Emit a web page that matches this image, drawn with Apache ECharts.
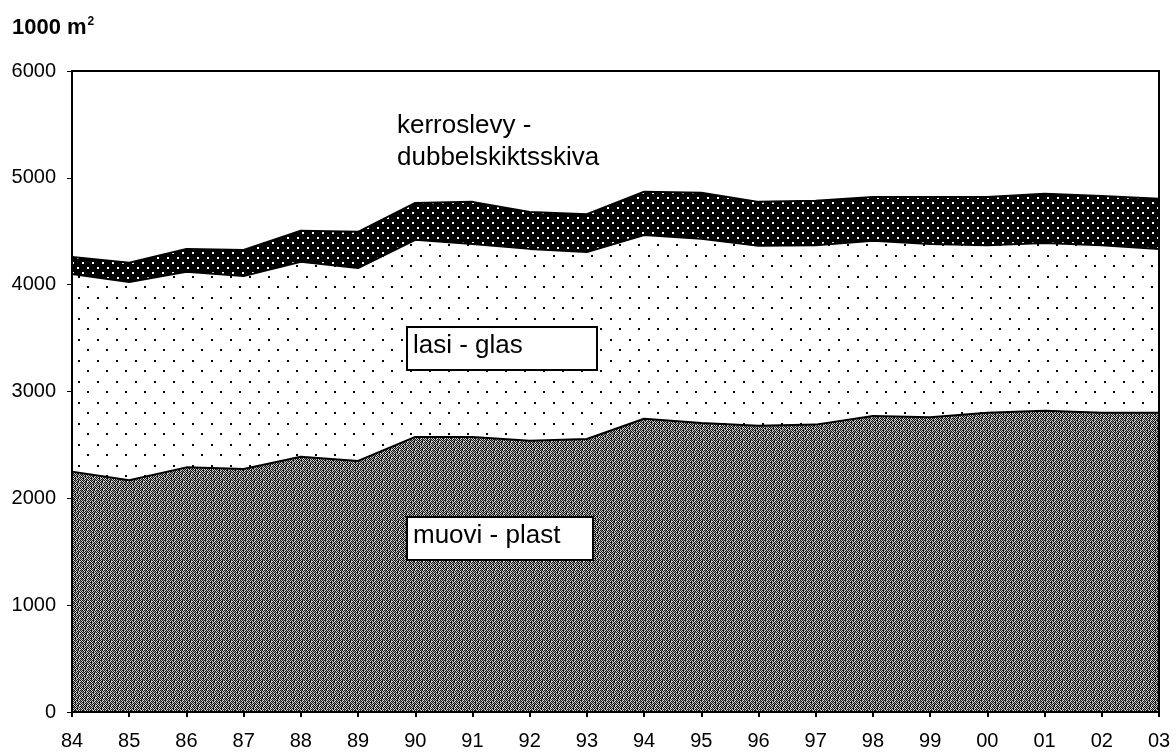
<!DOCTYPE html>
<html>
<head>
<meta charset="utf-8">
<script src="https://cdn.jsdelivr.net/npm/echarts@6/dist/echarts.min.js"></script>
<style>
  html, body { margin: 0; padding: 0; background: #fff; }
  #main { width: 1176px; height: 755px; }
</style>
</head>
<body>
<div id="main"></div>
<script>
var years = ['84','85','86','87','88','89','90','91','92','93','94','95','96','97','98','99','00','01','02','03'];
// muovi - plast (bottom layer)
var plast = [2250, 2170, 2290, 2275, 2390, 2350, 2575, 2575, 2540, 2555, 2745, 2705, 2680, 2690, 2770, 2760, 2800, 2820, 2800, 2800];
// lasi - glas (middle layer)
var glas = [1850, 1855, 1830, 1805, 1825, 1805, 1845, 1805, 1795, 1750, 1720, 1725, 1685, 1680, 1640, 1620, 1570, 1570, 1570, 1535];
// kerroslevy - dubbelskiktsskiva (top layer)
var kerros = [160, 180, 215, 245, 290, 340, 345, 395, 345, 355, 405, 430, 410, 415, 410, 440, 450, 460, 460, 470];
var yTicks = [0, 1000, 2000, 3000, 4000, 5000, 6000];

function makePattern(w, h, bg, fg, dots, size) {
  var c = document.createElement('canvas');
  c.width = w; c.height = h;
  var ctx = c.getContext('2d');
  ctx.fillStyle = bg;
  ctx.fillRect(0, 0, w, h);
  ctx.fillStyle = fg;
  dots.forEach(function (d) { ctx.fillRect(d[0], d[1], size, size); });
  return { image: c, repeat: 'repeat' };
}

// halftone-like grey for plastic, fixed tile
function makeDither() {
  var rows = [
    '#.#+#.#+',
    '.#.#.##.',
    '#+#.#+#.',
    '.#+#.#.#',
    '#.#.##+.',
    '+#.#.#.#',
    '#.##+.#.',
    '.#.#.#+#'
  ];
  var c = document.createElement('canvas');
  c.width = 8; c.height = 8;
  var ctx = c.getContext('2d');
  var col = { '#': '#111111', '.': '#d4d4d4', '+': '#7a7a7a' };
  rows.forEach(function (r, y) {
    for (var x = 0; x < r.length; x++) {
      ctx.fillStyle = col[r[x]];
      ctx.fillRect(x, y, 1, 1);
    }
  });
  return { image: c, repeat: 'repeat' };
}

var glasFill = makePattern(19, 21, '#ffffff', '#000000', [[2, 3], [11, 13]], 2);
var kerrosFill = makePattern(10, 10, '#000000', '#ffffff', [[2, 2], [7, 7]], 2);
var plastFill = makeDither();

var font = '"Liberation Sans", Arial, sans-serif';
var lineStyle = { color: '#000', width: 2 };

function labelText(x, y, txt) {
  return {
    type: 'text', x: x, y: y, z: 30,
    style: { text: txt, fill: '#000', font: '26px ' + font, verticalAlign: 'middle' }
  };
}
function labelBox(x, y, w, h) {
  return {
    type: 'rect', z: 25,
    shape: { x: x, y: y, width: w, height: h },
    style: { fill: '#fff', stroke: '#000', lineWidth: 2 }
  };
}

var chart = echarts.init(document.getElementById('main'));
chart.setOption({
  backgroundColor: '#fff',
  animation: false,
  title: {
    text: '{a|1000 m}{s|2}',
    left: 7, top: 11,
    textStyle: {
      rich: {
        a: { fontFamily: font, fontSize: 22, fontWeight: 'bold', color: '#000' },
        s: { fontFamily: font, fontSize: 12, fontWeight: 'bold', color: '#000', verticalAlign: 'top', padding: [0, 0, 12, 1] }
      }
    }
  },
  grid: { left: 72, right: 17, top: 71, bottom: 43 },
  xAxis: [{
    type: 'category',
    data: years,
    boundaryGap: false,
    axisLine: { onZero: false, lineStyle: { color: '#000', width: 2 } },
    axisTick: { alignWithLabel: true, length: 5, lineStyle: { color: '#000', width: 2 } },
    axisLabel: { color: '#000', fontFamily: font, fontSize: 20, margin: 19 },
    splitLine: { show: false },
    z: 10
  }, {
    type: 'category',
    data: years,
    position: 'top',
    boundaryGap: false,
    axisLine: { onZero: false, lineStyle: { color: '#000', width: 2 } },
    axisTick: { show: false },
    axisLabel: { show: false },
    z: 10
  }],
  yAxis: [{
    type: 'value',
    min: 0, max: 6000, interval: 1000,
    axisLine: { show: true, onZero: false, lineStyle: { color: '#000', width: 2 } },
    axisTick: { show: true, length: 5, lineStyle: { color: '#000', width: 1 } },
    axisLabel: { color: '#000', fontFamily: font, fontSize: 20, margin: 16,
      formatter: function (v) { return yTicks.indexOf(v) >= 0 ? String(v) : ''; } },
    splitLine: { show: false },
    z: 10
  }, {
    type: 'value',
    min: 0, max: 6000, interval: 1000,
    position: 'right',
    axisLine: { show: true, onZero: false, lineStyle: { color: '#000', width: 2 } },
    axisTick: { show: false },
    axisLabel: { show: false },
    splitLine: { show: false },
    z: 10
  }],
  series: [{
    name: 'muovi - plast',
    type: 'line', stack: 'total', data: plast,
    symbol: 'none', lineStyle: lineStyle,
    areaStyle: { color: plastFill, opacity: 1 }
  }, {
    name: 'lasi - glas',
    type: 'line', stack: 'total', data: glas,
    symbol: 'none', lineStyle: lineStyle,
    areaStyle: { color: glasFill, opacity: 1 }
  }, {
    name: 'kerroslevy - dubbelskiktsskiva',
    type: 'line', stack: 'total', data: kerros,
    symbol: 'none', lineStyle: lineStyle,
    areaStyle: { color: kerrosFill, opacity: 1 }
  }],
  graphic: [
    labelText(397, 126, 'kerroslevy -'),
    labelText(397, 158, 'dubbelskiktsskiva'),
    labelBox(407, 327, 190, 43),
    labelText(413, 346, 'lasi - glas'),
    labelBox(407, 517, 186, 43),
    labelText(413, 536, 'muovi - plast')
  ]
});
</script>
</body>
</html>
